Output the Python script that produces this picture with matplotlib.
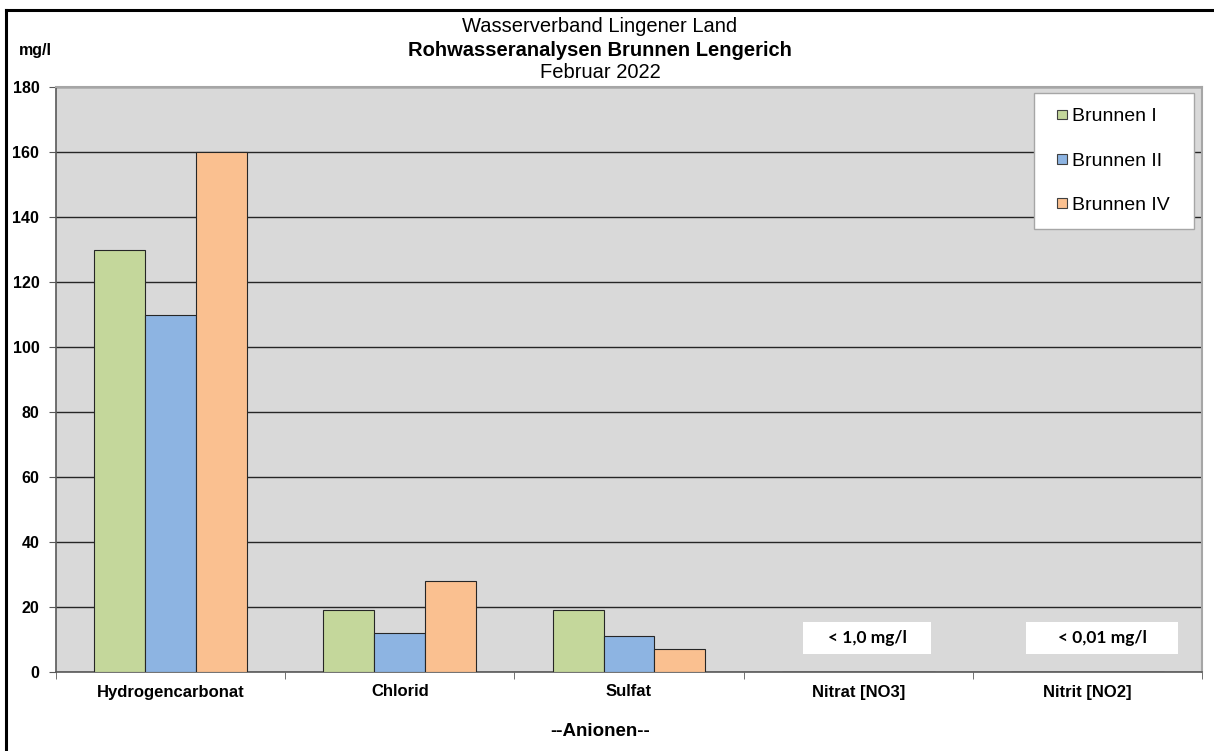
import matplotlib.pyplot as plt
import numpy as np
from matplotlib.patches import Rectangle
from matplotlib.container import BarContainer
from matplotlib.legend_handler import HandlerPatch, update_from_first_child

# Messwerte Anionen in mg/l
kategorien = ["Hydrogencarbonat", "Chlorid", "Sulfat", "Nitrat [NO3]", "Nitrit [NO2]"]
brunnen_1 = [130, 19, 19, 0, 0]
brunnen_2 = [110, 12, 11, 0, 0]
brunnen_4 = [160, 28, 7, 0, 0]
serien = ["Brunnen I", "Brunnen II", "Brunnen IV"]
farben = ["#C4D79B", "#8DB4E2", "#FAC090"]
hinweise = {3: "< 1,0 mg/l", 4: "< 0,01 mg/l"}

plt.rcParams['font.family'] = ["Liberation Sans", "DejaVu Sans"]

W, H = 1214, 751
fig = plt.figure(figsize=(W / 100, H / 100), dpi=100)

# Rahmen um das Diagramm (rechts und unten offen)
fig.add_artist(plt.Line2D([6 / W, 6 / W], [0, 1 - 10 / H], color="black", lw=2.2))
fig.add_artist(plt.Line2D([6 / W, 1], [1 - 10 / H, 1 - 10 / H], color="black", lw=2.2))

ax = fig.add_axes([56 / W, (H - 672) / H, 1146 / W, 585 / H])
ax.set_facecolor("#D9D9D9")

x = np.arange(len(kategorien))
breite = 0.2225
for i, (werte, name, farbe) in enumerate(zip([brunnen_1, brunnen_2, brunnen_4], serien, farben)):
    ax.bar(x + (i - 1) * breite, werte, width=breite, color=farbe,
           edgecolor="#262626", linewidth=0.8, label=name, zorder=3)

# weisse Hinweisfelder fuer Werte unter der Bestimmungsgrenze
box_breite = {3: 0.558, 4: 0.663}
box_versatz = {3: 0.04, 4: 0.065}
for idx, text in hinweise.items():
    mx = idx + box_versatz[idx]
    ax.add_patch(Rectangle((mx - box_breite[idx] / 2, 5.5), box_breite[idx], 9.9,
                           facecolor="white", edgecolor="none", zorder=4))
    ax.text(mx, 10.5, text, ha="center", va="center", fontsize=12.5,
            fontweight="bold", family=["Lato", "DejaVu Sans"], zorder=5)

ax.set_xlim(-0.5, len(kategorien) - 0.5)
ax.set_ylim(0, 180)
ax.set_yticks(np.arange(0, 181, 20))
ax.yaxis.grid(True, color="#262626", linewidth=1.0, zorder=1)
ax.set_axisbelow(True)

ax.set_xticks(x)
ax.set_xticklabels(kategorien, fontweight="bold", fontsize=12)
ax.set_xticks(np.arange(-0.5, len(kategorien)), minor=True)
ax.tick_params(axis="x", which="major", length=0, pad=9)
ax.tick_params(axis="x", which="minor", length=5, color="#595959", direction="out")
ax.tick_params(axis="y", length=5, color="#595959", labelsize=11.5, pad=7)
for lbl in ax.get_yticklabels():
    lbl.set_fontweight("bold")

for seite in ["left", "bottom"]:
    ax.spines[seite].set_color("#595959")
    ax.spines[seite].set_linewidth(1.2)
for seite in ["top", "right"]:
    ax.spines[seite].set_color("#A6A6A6")
    ax.spines[seite].set_linewidth(1.5)


def kleines_quadrat(legend, orig_handle, xdescent, ydescent, width, height, fontsize):
    # kleines Quadrat rechts im Handle-Bereich
    s = 0.5 * fontsize
    return Rectangle((width - s - xdescent, (height - s) / 2 - ydescent), s, s)


leg = ax.legend(loc="upper left", bbox_to_anchor=(0.8534, 0.75, 0.1396, 0.2397),
                mode="expand", fontsize=14, frameon=True, fancybox=False,
                handlelength=0.93, handleheight=0.7, handletextpad=0.3,
                labelspacing=1.38, borderpad=0.75, borderaxespad=0,
                handler_map={BarContainer: HandlerPatch(patch_func=kleines_quadrat,
                                                        update_func=update_from_first_child)})
leg.get_frame().set_edgecolor("#A6A6A6")
leg.get_frame().set_linewidth(1.0)
leg.get_frame().set_alpha(1)
for h in leg.legend_handles:
    h.set_linewidth(0.8)
    h.set_edgecolor("#404040")

# Titel und Beschriftungen
fig.text(600 / W, 1 - 27 / H, "Wasserverband Lingener Land", ha="center", va="center", fontsize=14.5)
fig.text(600 / W, 1 - 50 / H, "Rohwasseranalysen Brunnen Lengerich", ha="center", va="center",
         fontsize=14.5, fontweight="bold")
fig.text(600 / W, 1 - 73 / H, "Februar 2022", ha="center", va="center", fontsize=14.5)
fig.text(19 / W, 1 - 50 / H, "mg/l", ha="left", va="center", fontsize=11.5, fontweight="bold")
fig.text(600 / W, 1 - 731 / H, "--Anionen--", ha="center", va="center", fontsize=13.5,
         fontweight="bold")

fig.savefig("out.png", dpi=100)
